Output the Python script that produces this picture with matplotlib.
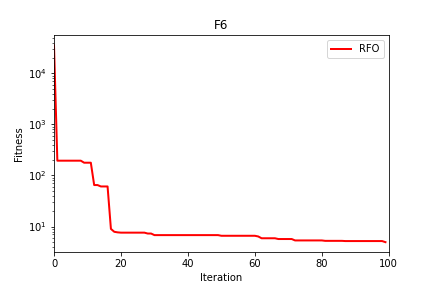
import matplotlib
matplotlib.use("Agg")
import matplotlib.pyplot as plt

iterations = list(range(100))
fitness = [35500,
           195, 195, 195, 195, 195, 195, 195, 195,
           178, 178, 178,
           65, 65,
           61, 61, 61,
           9.0, 7.9,
           7.7, 7.6, 7.6, 7.6, 7.6, 7.6, 7.6, 7.6, 7.6,
           7.3, 7.3,
           6.8, 6.8, 6.8, 6.8, 6.8, 6.8, 6.8, 6.8, 6.8, 6.8,
           6.8, 6.8, 6.8, 6.8, 6.8, 6.8, 6.8, 6.8, 6.8, 6.8,
           6.6, 6.6, 6.6, 6.6, 6.6, 6.6, 6.6, 6.6, 6.6, 6.6, 6.6,
           6.4,
           5.9, 5.9, 5.9, 5.9, 5.9,
           5.7, 5.7, 5.7, 5.7, 5.7,
           5.35, 5.35, 5.35, 5.35, 5.35, 5.35, 5.35, 5.35, 5.35,
           5.25, 5.25, 5.25, 5.25, 5.25, 5.25,
           5.2, 5.2, 5.2, 5.2, 5.2, 5.2, 5.2, 5.2, 5.2, 5.2, 5.2, 5.2,
           4.95]

fig, ax = plt.subplots(figsize=(6, 4), dpi=72)
fig.subplots_adjust(left=0.125, right=0.9, bottom=0.125, top=0.877)
ax.plot(iterations, fitness, color='red', linewidth=2, label='RFO')
ax.set_yscale('log')
ax.set_xlim(0, 100)
ax.set_title('F6')
ax.set_xlabel('Iteration')
ax.set_ylabel('Fitness')
ax.legend(loc='upper right')
fig.savefig('out.png', dpi=72)
